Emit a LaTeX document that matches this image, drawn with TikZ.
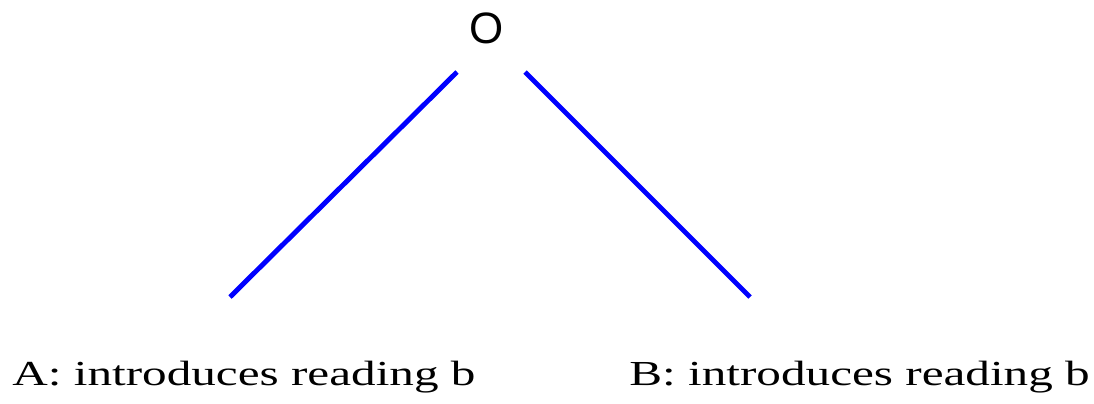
\documentclass[tikz,border=0pt]{standalone}
\usepackage{fontspec}
\setmainfont{Liberation Serif}
\newfontfamily\labelsans{Liberation Sans}
\newfontfamily\readfont[FakeStretch=1.40]{Liberation Serif}
\usetikzlibrary{positioning}

\begin{document}
\begin{tikzpicture}[
    x=0.02cm, y=-0.02cm,
    root/.style={inner sep=0pt, font=\labelsans\fontsize{25}{25}\selectfont},
    reading/.style={inner sep=0pt, anchor=base west, font=\readfont\fontsize{20}{20}\selectfont},
    branch/.style={draw=blue, line width=2.8pt}
]
    \useasboundingbox (0,0) rectangle (1094,403);

    \node[root] (top) at (487,28) {O};

    \coordinate (lefthigh) at (457,72);
    \coordinate (leftlow) at (230,297);
    \coordinate (righthigh) at (525,72);
    \coordinate (rightlow) at (750,297);

    \node[reading] (readA) at (12,385) {A: introduces reading b};
    \node[reading] (readB) at (629,385) {B: introduces reading b};

    \draw[branch] (lefthigh) -- (leftlow);
    \draw[branch] (righthigh) -- (rightlow);

\end{tikzpicture}
\end{document}
